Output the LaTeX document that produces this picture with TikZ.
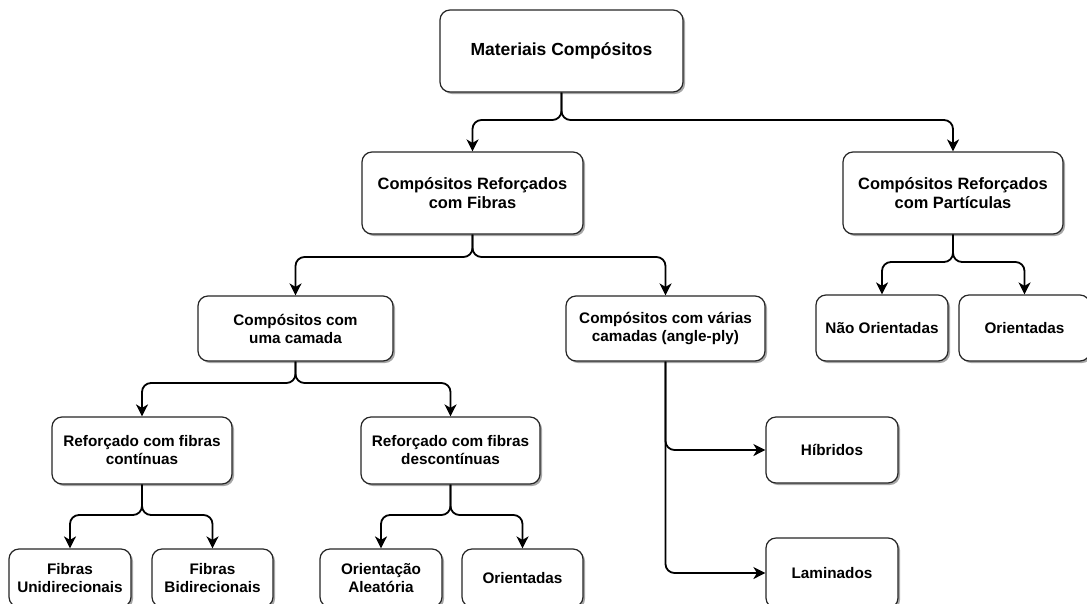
\documentclass[tikz,border=0pt]{standalone}
\usepackage{fontspec}
\setmainfont{Liberation Sans}
\usetikzlibrary{arrows.meta,shadows}
\begin{document}
\begin{tikzpicture}[x=1pt,y=-1pt,
  box/.style={draw=black!85, line width=1.2pt, rounded corners=10pt, fill=white, align=center,
    font=\fontsize{15.3}{18}\selectfont\bfseries, inner sep=2pt,
    drop shadow={shadow xshift=2pt, shadow yshift=-2pt, opacity=0.35, fill=black}},
  bigtext/.style={font=\fontsize{16.4}{19.5}\selectfont\bfseries},
  conn/.style={draw=black, line width=1.8pt, rounded corners=9pt,
    -{Stealth[length=12pt,width=12pt,inset=3.5pt]}}]
\fill[white] (0,0) rectangle (1087,603);
\useasboundingbox (0,0) rectangle (1087,603);
% boxes
\node[box, minimum width=243pt, minimum height=82pt, font=\fontsize{17.5}{21}\selectfont\bfseries] (title) at (561.5,51) {Materiais Compósitos};
\node[box, bigtext, minimum width=221pt, minimum height=82pt] (fib) at (472.5,193) {Compósitos Reforçados\\com Fibras};
\node[box, bigtext, minimum width=220pt, minimum height=82pt] (par) at (953,193) {Compósitos Reforçados\\com Partículas};
\node[box, minimum width=195pt, minimum height=65pt] (uma) at (295.5,328.5) {Compósitos com\\uma camada};
\node[box, minimum width=199pt, minimum height=65pt] (var) at (665.5,328.5) {Compósitos com várias\\camadas (angle-ply)};
\node[box, minimum width=132pt, minimum height=66pt] (nao) at (882,328) {Não Orientadas};
\node[box, minimum width=131pt, minimum height=66pt] (ori) at (1024.5,328) {Orientadas};
\node[box, minimum width=180pt, minimum height=67pt] (cont) at (142,450.5) {Reforçado com fibras\\contínuas};
\node[box, minimum width=179pt, minimum height=67pt] (desc) at (450.5,450.5) {Reforçado com fibras\\descontínuas};
\node[box, minimum width=132pt, minimum height=66pt] (hib) at (832,450) {Híbridos};
\node[box, minimum width=132pt, minimum height=70pt] (lam) at (832,573) {Laminados};
\node[box, minimum width=122pt, minimum height=58pt] (uni) at (70,578) {Fibras\\Unidirecionais};
\node[box, minimum width=121pt, minimum height=58pt] (bid) at (212.5,578) {Fibras\\Bidirecionais};
\node[box, minimum width=122pt, minimum height=58pt] (ale) at (381,578) {Orientação\\Aleatória};
\node[box, minimum width=121pt, minimum height=58pt] (ori2) at (522.5,578) {Orientadas};
% junctions
\coordinate (j1) at (561.5,120);
\coordinate (j2) at (472.5,257);
\coordinate (j3) at (953,262);
\coordinate (j4) at (295.5,383);
\coordinate (j5) at (142,515);
\coordinate (j6) at (450.5,515);
% connectors
\draw[conn] (title.south) -- (j1) -| (fib.north);
\draw[conn] (title.south) -- (j1) -| (par.north);
\draw[conn] (fib.south) -- (j2) -| (uma.north);
\draw[conn] (fib.south) -- (j2) -| (var.north);
\draw[conn] (par.south) -- (j3) -| (nao.north);
\draw[conn] (par.south) -- (j3) -| (ori.north);
\draw[conn] (uma.south) -- (j4) -| (cont.north);
\draw[conn] (uma.south) -- (j4) -| (desc.north);
\draw[conn] (cont.south) -- (j5) -| (uni.north);
\draw[conn] (cont.south) -- (j5) -| (bid.north);
\draw[conn] (desc.south) -- (j6) -| (ale.north);
\draw[conn] (desc.south) -- (j6) -| (ori2.north);
\draw[conn] (var.south) |- (hib.west);
\draw[conn] (var.south) |- (lam.west);
\end{tikzpicture}
\end{document}
